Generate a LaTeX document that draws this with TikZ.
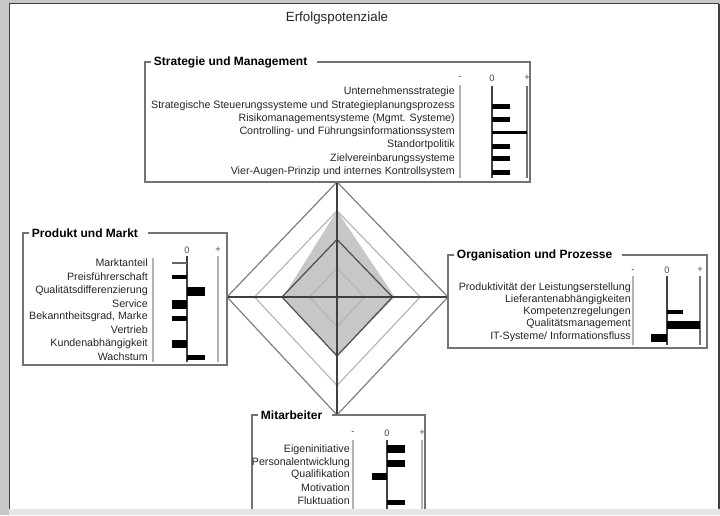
\documentclass[tikz,border=0pt]{standalone}
\usepackage{fontspec}
\setmainfont{Liberation Sans}
\usetikzlibrary{calc}
\begin{document}
\begin{tikzpicture}[x=0.75pt,y=-0.75pt,
  lbl/.style={font=\fontsize{8}{9}\selectfont, anchor=east, inner sep=0pt, text=black!85},
  ttl/.style={font=\fontsize{9}{10}\selectfont\bfseries, anchor=west, fill=white, inner xsep=2pt, inner ysep=1pt},
  frame/.style={draw=black!55, line width=1.3pt},
  hdr/.style={font=\fontsize{7}{8}\selectfont, inner sep=0pt, text=black!70},
  bar/.style={fill=black, draw=none},
  zeroline/.style={draw=black!75, line width=0.9pt},
  sepline/.style={draw=black!30, line width=0.9pt},
  plusline/.style={draw=black!55, line width=0.9pt},
  ring/.style={draw=black!30, line width=0.8pt},
  axisline/.style={draw=black!75, line width=0.9pt}
]
\useasboundingbox (0,0) rectangle (720,515);
% page on grey desktop
\fill[black!22] (0,0) rectangle (720,515);
\fill[white] (9,3) rectangle (719,509);
\draw[black!75, line width=1pt] (9.5,509) -- (9.5,3.5) -- (719,3.5);
\draw[black!75, line width=1pt] (719,3.5) -- (719,509);

% heading
\node[font=\fontsize{10}{12}\selectfont, text=black!85] (heading) at (337,18) {Erfolgspotenziale};

% ---------- radar diagram ----------
\coordinate (c)  at (337,297);
\coordinate (dT) at (337,182);
\coordinate (dR) at (448,297);
\coordinate (dB) at (337,415);
\coordinate (dL) at (227,297);

\fill[black!22] ($(c)!0.75!(dT)$) -- ($(c)!0.52!(dR)$) -- ($(c)!0.5!(dB)$) -- ($(c)!0.49!(dL)$) -- cycle;
\foreach \f in {0.25,0.75}
  \draw[ring] ($(c)!\f!(dT)$) -- ($(c)!\f!(dR)$) -- ($(c)!\f!(dB)$) -- ($(c)!\f!(dL)$) -- cycle;
\draw[draw=black!70, line width=0.9pt] ($(c)!0.5!(dT)$) -- ($(c)!0.5!(dR)$) -- ($(c)!0.5!(dB)$) -- ($(c)!0.5!(dL)$) -- cycle;
\draw[draw=black!50, line width=0.9pt] (dT) -- (dR) -- (dB) -- (dL) -- cycle;
\draw[axisline] (dT) -- (dB);
\draw[axisline] (dL) -- (dR);

% ---------- Strategie und Management ----------
\node[ttl] (stT) at (151,62) {Strategie und Management};
\draw[frame] (stT.west) -- (145,62) -- (145,182) -- (530,182) -- (530,62) -- ($(stT.east)+(7,0)$);
\node[hdr] (stM) at (460,78) {-};
\node[hdr] (stZ) at (492,78) {0};
\node[hdr] (stP) at (527,78) {+};
\draw[sepline] (460,85) -- (460,178);
\draw[zeroline] (492,86) -- (492,178);
\draw[plusline] (527,86) -- (527,178);
\node[lbl] (st1) at (455,92) {Unternehmensstrategie};
\node[lbl] (st2) at (455,105.5) {Strategische Steuerungssysteme und Strategieplanungsprozess};
\node[lbl] (st3) at (455,118.5) {Risikomanagementsysteme (Mgmt. Systeme)};
\node[lbl] (st4) at (455,132) {Controlling- und Führungsinformationssystem};
\node[lbl] (st5) at (455,145) {Standortpolitik};
\node[lbl] (st6) at (455,158.5) {Zielvereinbarungssysteme};
\node[lbl] (st7) at (455,172) {Vier-Augen-Prinzip und internes Kontrollsystem};
\fill[bar] (492,103.5) rectangle (510,108.5);
\fill[bar] (492,116.5) rectangle (510,121.5);
\fill[bar] (492,130.5) rectangle (527,133.5);
\fill[bar] (492,143.5) rectangle (510,148.5);
\fill[bar] (492,155.5) rectangle (510,160.5);
\fill[bar] (492,169.5) rectangle (510,174.5);

% ---------- Produkt und Markt ----------
\node[ttl] (pmT) at (29,233) {Produkt und Markt};
\draw[frame] (pmT.west) -- (23,233) -- (23,365) -- (227,365) -- (227,233) -- ($(pmT.east)+(7,0)$);
\node[hdr] (pmZ) at (187,250) {0};
\node[hdr] (pmP) at (218,250) {+};
\draw[sepline] (153,258) -- (153,362);
\draw[zeroline] (187,256) -- (187,362);
\draw[sepline] (218,256) -- (218,362);
\node[lbl] (pm1) at (148,263) {Marktanteil};
\node[lbl] (pm2) at (148,277) {Preisführerschaft};
\node[lbl] (pm3) at (148,291) {Qualitätsdifferenzierung};
\node[lbl] (pm4) at (148,304) {Service};
\node[lbl] (pm5) at (148,317) {Bekanntheitsgrad, Marke};
\node[lbl] (pm5b) at (148,330) {Vertrieb};
\node[lbl] (pm6) at (148,344) {Kundenabhängigkeit};
\node[lbl] (pm7) at (148,357) {Wachstum};
\fill[black!60] (172,262.3) rectangle (187,263.8);
\fill[bar] (172,275) rectangle (187,279);
\fill[bar] (187,286.5) rectangle (205,295.5);
\fill[bar] (172,299.5) rectangle (187,308.5);
\fill[bar] (172,315.5) rectangle (187,320.5);
\fill[bar] (172,340) rectangle (187,348);
\fill[bar] (187,354.5) rectangle (205,359.5);

% ---------- Organisation und Prozesse ----------
\node[ttl] (orT) at (454,255) {Organisation und Prozesse};
\draw[frame] (orT.west) -- (448,255) -- (448,348) -- (707,348) -- (707,255) -- ($(orT.east)+(7,0)$);
\node[hdr] (orM) at (633,271) {-};
\node[hdr] (orZ) at (667,270) {0};
\node[hdr] (orP) at (700,270) {+};
\draw[sepline] (633,276) -- (633,345);
\draw[zeroline] (667,276) -- (667,345);
\draw[plusline] (700,276) -- (700,345);
\node[lbl] (or1) at (631,288) {Produktivität der Leistungserstellung};
\node[lbl] (or2) at (631,300) {Lieferantenabhängigkeiten};
\node[lbl] (or3) at (631,312) {Kompetenzregelungen};
\node[lbl] (or4) at (631,324) {Qualitätsmanagement};
\node[lbl] (or5) at (631,337) {IT-Systeme/ Informationsfluss};
\fill[bar] (667,310) rectangle (683,314);
\fill[bar] (667,321) rectangle (700,329);
\fill[bar] (651,334) rectangle (667,342);

% ---------- Mitarbeiter ----------
\node[ttl] (maT) at (258,415) {Mitarbeiter};
\draw[frame] (252,509) -- (252,415) -- (maT.west);
\draw[frame] ($(maT.east)+(7,0)$) -- (425,415) -- (425,509);
\node[hdr] (maM) at (353,433) {-};
\node[hdr] (maZ) at (387,433) {0};
\node[hdr] (maP) at (422,433) {+};
\draw[sepline] (353,440) -- (353,509);
\draw[zeroline] (387,440) -- (387,509);
\draw[sepline] (422,440) -- (422,509);
\node[lbl] (ma1) at (350,450) {Eigeninitiative};
\node[lbl] (ma2) at (350,463) {Personalentwicklung};
\node[lbl] (ma3) at (350,475) {Qualifikation};
\node[lbl] (ma4) at (350,488) {Motivation};
\node[lbl] (ma5) at (350,501) {Fluktuation};
\fill[bar] (387,445) rectangle (405,453);
\fill[bar] (387,459.5) rectangle (405,466.5);
\fill[bar] (372,472.5) rectangle (387,479.5);
\fill[bar] (387,499.5) rectangle (405,504.5);

% lower window edge
\fill[black!10] (9,509) rectangle (720,515);
\end{tikzpicture}
\end{document}
